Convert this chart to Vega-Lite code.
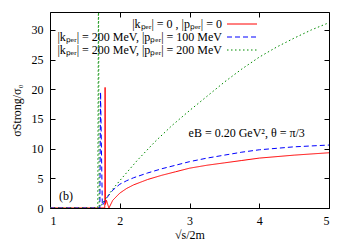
{
  "$schema": "https://vega.github.io/schema/vega-lite/v6.json",
  "width": 279,
  "height": 196,
  "autosize": "none",
  "padding": {"left": 50, "top": 12, "right": 21, "bottom": 37},
  "config": {
    "font": "Liberation Serif",
    "view": {"stroke": "black", "strokeWidth": 1},
    "axis": {
      "grid": false,
      "domain": false,
      "tickColor": "black",
      "tickSize": -5,
      "labelOverlap": false,
      "labelFont": "Liberation Serif",
      "labelFontSize": 12,
      "labelColor": "black",
      "titleFont": "Liberation Serif",
      "titleFontSize": 12,
      "titleFontWeight": "normal",
      "titleColor": "black"
    },
    "legend": {
      "labelFont": "Liberation Serif",
      "labelFontSize": 12,
      "labelColor": "black",
      "labelLimit": 400
    }
  },
  "data": {
    "values": [
      {"series": "a", "x": 1.0, "y": 0},
      {"series": "a", "x": 1.785, "y": 0},
      {"series": "a", "x": 1.79, "y": 20.3},
      {"series": "a", "x": 1.795, "y": 0.6},
      {"series": "a", "x": 1.81, "y": 1.3},
      {"series": "a", "x": 1.83, "y": 0.5},
      {"series": "a", "x": 1.845, "y": 0},
      {"series": "a", "x": 1.9, "y": 1.3},
      {"series": "a", "x": 2.0, "y": 2.5},
      {"series": "a", "x": 2.1, "y": 3.3},
      {"series": "a", "x": 2.2, "y": 3.9},
      {"series": "a", "x": 2.4, "y": 4.8},
      {"series": "a", "x": 2.6, "y": 5.5},
      {"series": "a", "x": 2.8, "y": 6.1},
      {"series": "a", "x": 3.0, "y": 6.7},
      {"series": "a", "x": 3.25, "y": 7.2},
      {"series": "a", "x": 3.5, "y": 7.6},
      {"series": "a", "x": 3.75, "y": 8.0},
      {"series": "a", "x": 4.0, "y": 8.4},
      {"series": "a", "x": 4.5, "y": 8.9},
      {"series": "a", "x": 5.0, "y": 9.3},
      {"series": "b", "x": 1.0, "y": 0},
      {"series": "b", "x": 1.715, "y": 0},
      {"series": "b", "x": 1.725, "y": 19.5},
      {"series": "b", "x": 1.75, "y": 0.4},
      {"series": "b", "x": 1.77, "y": 0.8},
      {"series": "b", "x": 1.8, "y": 1.5},
      {"series": "b", "x": 1.9, "y": 3.0},
      {"series": "b", "x": 2.0, "y": 4.0},
      {"series": "b", "x": 2.1, "y": 4.6},
      {"series": "b", "x": 2.2, "y": 5.1},
      {"series": "b", "x": 2.4, "y": 5.9},
      {"series": "b", "x": 2.6, "y": 6.6},
      {"series": "b", "x": 2.8, "y": 7.2},
      {"series": "b", "x": 3.0, "y": 7.8},
      {"series": "b", "x": 3.25, "y": 8.4},
      {"series": "b", "x": 3.5, "y": 8.9},
      {"series": "b", "x": 3.75, "y": 9.4},
      {"series": "b", "x": 4.0, "y": 9.8},
      {"series": "b", "x": 4.5, "y": 10.3},
      {"series": "b", "x": 5.0, "y": 10.6},
      {"series": "c", "x": 1.0, "y": 0},
      {"series": "c", "x": 1.685, "y": 0},
      {"series": "c", "x": 1.695, "y": 40},
      {"series": "c", "x": 1.705, "y": 0.2},
      {"series": "c", "x": 1.73, "y": 0.4},
      {"series": "c", "x": 1.76, "y": 0.9},
      {"series": "c", "x": 1.8, "y": 1.6},
      {"series": "c", "x": 1.9, "y": 3.2},
      {"series": "c", "x": 2.0, "y": 4.6},
      {"series": "c", "x": 2.25, "y": 8.0},
      {"series": "c", "x": 2.5, "y": 11.1},
      {"series": "c", "x": 2.75, "y": 13.9},
      {"series": "c", "x": 3.0, "y": 16.4},
      {"series": "c", "x": 3.25, "y": 18.8},
      {"series": "c", "x": 3.5, "y": 21.2},
      {"series": "c", "x": 3.75, "y": 23.4},
      {"series": "c", "x": 4.0, "y": 25.4},
      {"series": "c", "x": 4.25, "y": 27.1},
      {"series": "c", "x": 4.5, "y": 28.6},
      {"series": "c", "x": 4.75, "y": 30.0},
      {"series": "c", "x": 5.0, "y": 31.2}
    ]
  },
  "resolve": {"axis": {"x": "independent", "y": "independent"}},
  "layer": [
    {
      "mark": {"type": "line", "clip": true, "strokeWidth": 1},
      "encoding": {
        "x": {
          "field": "x",
          "type": "quantitative",
          "scale": {"domain": [1, 5], "nice": false},
          "axis": {"values": [1, 2, 3, 4, 5], "format": "d", "title": "√s/2m", "labelPadding": 12, "titlePadding": 3}
        },
        "y": {
          "field": "y",
          "type": "quantitative",
          "scale": {"domain": [0, 33], "nice": false},
          "axis": {"values": [0, 5, 10, 15, 20, 25, 30], "format": "d", "title": "σStrong/σ₀", "labelPadding": 12, "titlePadding": 8}
        },
        "color": {
          "field": "series",
          "type": "nominal",
          "scale": {"domain": ["a", "b", "c"], "range": ["#ff0000", "#0000ff", "#008b00"]},
          "legend": {
            "orient": "none",
            "legendX": 186,
            "legendY": 6,
            "title": null,
            "symbolType": "M-3,0H3",
            "symbolSize": 100,
            "symbolStrokeWidth": 1,
            "labelAlign": "right",
            "labelOffset": -26,
            "rowPadding": 1,
            "labelExpr": "datum.value == 'a' ? '|kₚₑᵣ| = 0 , |pₚₑᵣ| = 0' : datum.value == 'b' ? '|kₚₑᵣ| = 200 MeV, |pₚₑᵣ| = 100 MeV' : '|kₚₑᵣ| = 200 MeV, |pₚₑᵣ| = 200 MeV'"
          }
        },
        "strokeDash": {
          "field": "series",
          "type": "nominal",
          "scale": {"domain": ["a", "b", "c"], "range": [[1, 0], [5, 3], [1.5, 2.5]]},
          "legend": null
        }
      }
    },
    {
      "data": {"values": [{"x": 3.82, "y": 12.6, "label": "eB = 0.20 GeV², θ = π/3"}, {"x": 1.23, "y": 2.0, "label": "(b)"}]},
      "mark": {"type": "text", "fontSize": 12, "font": "Liberation Serif", "color": "black", "align": "center", "baseline": "middle"},
      "encoding": {
        "x": {
          "field": "x",
          "type": "quantitative",
          "axis": {"orient": "top", "values": [1, 2, 3, 4, 5], "labels": false, "title": null}
        },
        "y": {
          "field": "y",
          "type": "quantitative",
          "axis": {"orient": "right", "values": [0, 5, 10, 15, 20, 25, 30], "labels": false, "title": null}
        },
        "text": {"field": "label"}
      }
    }
  ]
}
